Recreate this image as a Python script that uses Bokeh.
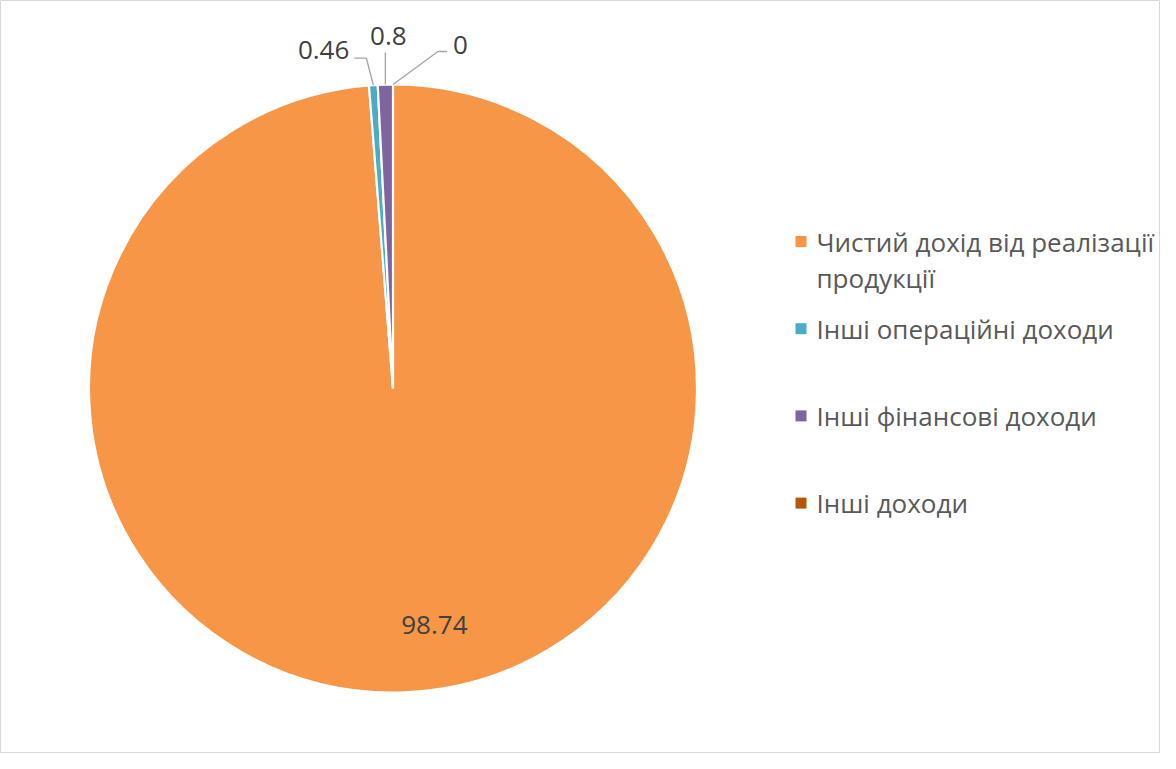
import math
import textwrap
from bokeh.plotting import figure
from bokeh.models import ColumnDataSource, Range1d
from bokeh.embed import file_html
from bokeh.resources import INLINE
from bokeh.core.properties import value

# ---- data ----
categories = [
    "Чистий дохід від реалізації продукції",
    "Інші операційні доходи",
    "Інші фінансові доходи",
    "Інші доходи",
]
values = [98.74, 0.46, 0.8, 0]
value_labels = ["98.74", "0.46", "0.8", "0"]
colors = ["#F79646", "#4BACC6", "#8064A2", "#B65708"]

# ---- layout (pixel units) ----
W, H = 1160, 753
FONT = "Open Sans"


def to_data(X, Y):
    """reference-image pixel -> data coords (y up)"""
    return X, H - Y


CX, CY = to_data(392.5, 388)
R = 304

p = figure(width=W, height=H, x_range=Range1d(0, W), y_range=Range1d(0, H),
           output_backend="svg", toolbar_location=None,
           x_axis_location=None, y_axis_location=None, min_border=0)
p.grid.visible = False
p.outline_line_color = "#d9d9d9"
p.background_fill_color = "white"
p.border_fill_color = "white"

# ---- pie wedges (clockwise from 12 o'clock) ----
total = sum(values)
starts, ends, mids = [], [], []
acc = 0.0
for v in values:
    a0 = 2 * math.pi * acc / total
    acc += v
    a1 = 2 * math.pi * acc / total
    starts.append(a0)
    ends.append(a1)
    mids.append((a0 + a1) / 2)

idx = [i for i, v in enumerate(values) if v > 0]
src = ColumnDataSource(dict(
    start=[math.pi / 2 - starts[i] for i in idx],
    end=[math.pi / 2 - ends[i] for i in idx],
    color=[colors[i] for i in idx],
))
p.wedge(x=CX, y=CY, radius=R, start_angle="start", end_angle="end",
        direction="clock", fill_color="color", line_color="white",
        line_width=2.2, source=src)

# ---- data labels ----
inside = {0: (0.78, 32)}
# outside labels: (elbow dx, elbow dy, end dx, end dy, text dx, text dy, align)
outside = {
    1: (-7, 27, -19, 27, -24, 35, "right"),
    2: (0, 32, 0, 32, 3, 49, "center"),
    3: (45, 33, 54, 33, 60, 40, "left"),
}

lx, ly, lt, la = [], [], [], []
xs, ys = [], []
for i, m in enumerate(mids):
    if i in inside:
        f, dx = inside[i]
        lx.append(CX + f * R * math.sin(m) + dx)
        ly.append(CY + f * R * math.cos(m))
        lt.append(value_labels[i])
        la.append("center")
    else:
        ex = CX + R * math.sin(m)
        ey = CY + R * math.cos(m)
        edx, edy, ndx, ndy, tdx, tdy, al = outside[i]
        xs.append([ex, ex + edx, ex + ndx])
        ys.append([ey, ey + edy, ey + ndy])
        lx.append(ex + tdx)
        ly.append(ey + tdy)
        lt.append(value_labels[i])
        la.append(al)

p.multi_line(xs=xs, ys=ys, line_color="#a6a6a6", line_width=1.4)
p.text(x=lx, y=ly, text=lt, text_align=la, text_baseline="middle",
       text_font=value(FONT), text_font_size="26px", text_color="#404040")

# ---- legend (drawn manually) ----
LEG_X, LEG_Y0, LEG_STEP, LINE_H = 800.5, 241, 87.2, 36
sq_x, sq_y = [], []
tx, ty, tt = [], [], []
for k, cat in enumerate(categories):
    yc = LEG_Y0 + k * LEG_STEP
    dx_, dy_ = to_data(LEG_X, yc)
    sq_x.append(dx_)
    sq_y.append(dy_)
    for j, line in enumerate(textwrap.wrap(cat, 27)):
        a, b = to_data(816, yc + j * LINE_H)
        tx.append(a)
        ty.append(b)
        tt.append(line)

p.rect(x=sq_x, y=sq_y, width=11, height=11, fill_color=colors, line_color=None)
p.text(x=tx, y=ty, text=tt, text_align="left", text_baseline="middle",
       text_font=value(FONT), text_font_size="26px", text_color="#595959")

open("out.html", "w").write(file_html(p, INLINE))
